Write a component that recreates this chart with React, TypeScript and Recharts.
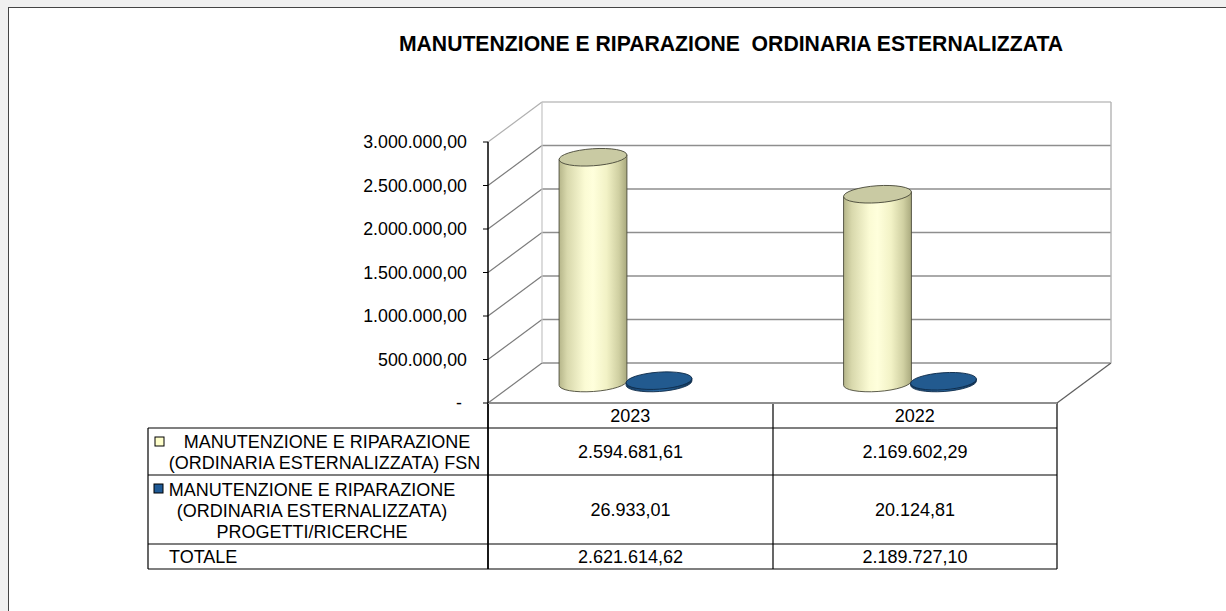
import { BarChart, Bar, XAxis, YAxis, CartesianGrid } from "recharts";

const categories = ["2023", "2022"];
const fsnValues = [2594681.61, 2169602.29];
const progettiValues = [26933.01, 20124.81];
const yTicks = [0, 500000, 1000000, 1500000, 2000000, 2500000, 3000000];

const title = "MANUTENZIONE E RIPARAZIONE  ORDINARIA ESTERNALIZZATA";
const fsnLabel = ["MANUTENZIONE E RIPARAZIONE", "(ORDINARIA ESTERNALIZZATA) FSN"];
const progettiLabel = ["MANUTENZIONE E RIPARAZIONE", "(ORDINARIA ESTERNALIZZATA)", "PROGETTI/RICERCHE"];
const totalLabel = "TOTALE";

const data = categories.map((year, i) => ({
  year,
  fsn: fsnValues[i],
  progetti: progettiValues[i],
}));
const totals = categories.map((_, i) => fsnValues[i] + progettiValues[i]);

// layout
const W = 1226;
const H = 611;
const PLOT_L = 488;
const PLOT_R = 1057;
const PLOT_T = 142;
const PLOT_B = 403;
const YAXIS_W = 140;
const XAXIS_H = 25;
const BACK_DX = 54;
const BACK_DY = -40;
const FONT = "'Liberation Sans', Arial, sans-serif";

const COLS = [148, 488, 773, 1057];
const ROWS = [428, 475, 544, 569];

function fmtIt(v: number) {
  const [int, dec] = v.toFixed(2).split(".");
  return int.replace(/\B(?=(\d{3})+(?!\d))/g, ".") + "," + dec;
}

function YTick(props: any) {
  const { x, y, payload } = props;
  const zero = payload.value === 0;
  return (
    <text
      x={zero ? x - 5 : x}
      y={y}
      dy="0.355em"
      textAnchor="end"
      fontSize={17.8}
      fontFamily={FONT}
      fill="#000"
    >
      {zero ? "-" : fmtIt(payload.value)}
    </text>
  );
}

function wallLine(p: any) {
  const { x1, x2, y1 } = p;
  const by = y1 + BACK_DY;
  const bl = x1 + BACK_DX;
  const br = x2 + BACK_DX;
  const isTop = Math.abs(y1 - PLOT_T) < 1;
  const isBottom = Math.abs(y1 - PLOT_B) < 1;
  return (
    <g key={`wl-${y1}`}>
      <line x1={x1} y1={y1} x2={bl} y2={by} stroke={isTop ? "#b0b0b0" : "#7c7c7c"} strokeWidth={1.2} />
      <line x1={bl} y1={by} x2={br} y2={by} stroke={isTop ? "#c0c0c0" : "#8e8e8e"} strokeWidth={1.6} />
      {isTop && (
        <>
          <line x1={bl} y1={by} x2={bl} y2={by + PLOT_B - PLOT_T} stroke="#c4c4c4" strokeWidth={1.2} />
          <line x1={br} y1={by} x2={br} y2={by + PLOT_B - PLOT_T} stroke="#b4b4b4" strokeWidth={1.4} />
        </>
      )}
      {isBottom && (
        <>
          <line x1={x1} y1={y1} x2={x2} y2={y1} stroke="#8e8e8e" strokeWidth={1.8} />
          <line x1={x2} y1={y1} x2={br} y2={by} stroke="#606060" strokeWidth={1.3} />
        </>
      )}
    </g>
  );
}

const TILT = (-4 * Math.PI) / 180;

function Cylinder(props: any) {
  const { x, y, width, height, kind } = props;
  if (x == null || y == null) return null;
  const blue = kind === "progetti";
  const rx = blue ? width / 2 - 1 : width / 2;
  const cx = x + width / 2 - 5 + (blue ? 1 : 0);
  const ry = 8.5;
  const top = y + BACK_DY / 2;
  const bottom = y + Math.max(height, 0) + BACK_DY / 2;
  const c = Math.cos(TILT) * rx;
  const s = Math.sin(TILT) * rx;
  const body = [
    `M ${cx - c} ${top - s}`,
    `L ${cx - c} ${bottom - s}`,
    `A ${rx} ${ry} -4 0 0 ${cx + c} ${bottom + s}`,
    `L ${cx + c} ${top + s}`,
    "Z",
  ].join(" ");
  return (
    <g>
      <path
        d={body}
        fill={blue ? "url(#blueBody)" : "url(#yellowBody)"}
        stroke={blue ? "#0e2b4a" : "#4a4a3a"}
        strokeWidth={0.9}
      />
      <ellipse
        cx={cx}
        cy={top}
        rx={rx}
        ry={ry}
        transform={`rotate(-4 ${cx} ${top})`}
        fill={blue ? "#225a8f" : "#c9caa3"}
        stroke={blue ? "#0e2b4a" : "#4a4a3a"}
        strokeWidth={0.9}
      />
    </g>
  );
}

function TableOverlay() {
  const t = { fontFamily: FONT, fontSize: 18, fill: "#000" };
  const colCenter = [(COLS[1] + COLS[2]) / 2, (COLS[2] + COLS[3]) / 2];
  return (
    <svg width={W} height={H} style={{ position: "absolute", left: 0, top: 0 }}>
      {/* table grid */}
      <g stroke="#000" strokeWidth={1.2}>
        {ROWS.map((r) => (
          <line key={`r${r}`} x1={COLS[0]} y1={r} x2={COLS[3]} y2={r} />
        ))}
        <line x1={COLS[0]} y1={ROWS[0]} x2={COLS[0]} y2={ROWS[3]} />
        <line x1={COLS[1]} y1={PLOT_B} x2={COLS[1]} y2={ROWS[3]} strokeWidth={1.8} />
        <line x1={COLS[2]} y1={PLOT_B} x2={COLS[2]} y2={ROWS[3]} />
        <line x1={COLS[3]} y1={PLOT_B} x2={COLS[3]} y2={ROWS[3]} />
      </g>

      {/* legend keys */}
      <rect x={155} y={437} width={9} height={9} fill="#ffffcc" stroke="#000" strokeWidth={1} />
      <rect x={154} y={484} width={9} height={9} fill="#1f5a96" stroke="#000" strokeWidth={1} />

      {/* row labels */}
      <text {...t} x={327} y={448} textAnchor="middle">{fsnLabel[0]}</text>
      <text {...t} x={324.5} y={469} textAnchor="middle">{fsnLabel[1]}</text>
      {progettiLabel.map((line, i) => (
        <text key={line} {...t} x={312} y={496 + i * 21} textAnchor="middle">
          {line}
        </text>
      ))}
      <text {...t} x={169} y={563}>{totalLabel}</text>

      {/* values */}
      {categories.map((c, i) => (
        <g key={c}>
          <text {...t} x={colCenter[i]} y={458} textAnchor="middle">{fmtIt(fsnValues[i])}</text>
          <text {...t} x={colCenter[i]} y={516} textAnchor="middle">{fmtIt(progettiValues[i])}</text>
          <text {...t} x={colCenter[i]} y={563} textAnchor="middle">{fmtIt(totals[i])}</text>
        </g>
      ))}

      <text
        x={731}
        y={51}
        textAnchor="middle"
        fontFamily={FONT}
        fontWeight="bold"
        fontSize={21.2}
        fill="#000"
        style={{ whiteSpace: "pre" }}
      >
        {title}
      </text>
    </svg>
  );
}

export default function App() {
  return (
    <div style={{ position: "absolute", left: 0, top: 0, width: W, height: H, background: "#f0f0f0", overflow: "hidden" }}>
      <div
        style={{
          position: "absolute",
          left: 8,
          top: 7,
          width: W,
          height: H,
          background: "#fff",
          borderLeft: "1px solid #444",
          borderTop: "1px solid #444",
        }}
      />
      <TableOverlay />
      <div style={{ position: "absolute", left: 0, top: 0 }}>
        <BarChart
          width={W}
          height={H}
          data={data}
          barSize={68}
          barGap={-3}
          margin={{ top: PLOT_T, right: W - PLOT_R, bottom: H - PLOT_B - XAXIS_H, left: PLOT_L - YAXIS_W }}
        >
          <defs>
            <linearGradient id="yellowBody" x1="0" y1="0" x2="1" y2="0">
              <stop offset="0%" stopColor="#b6b68a" />
              <stop offset="12%" stopColor="#d8d8ac" />
              <stop offset="38%" stopColor="#fbfbd4" />
              <stop offset="50%" stopColor="#ffffdc" />
              <stop offset="70%" stopColor="#f2f2c6" />
              <stop offset="88%" stopColor="#d0d0a2" />
              <stop offset="100%" stopColor="#a9a97e" />
            </linearGradient>
            <linearGradient id="blueBody" x1="0" y1="0" x2="1" y2="0">
              <stop offset="0%" stopColor="#143a60" />
              <stop offset="50%" stopColor="#2a6aa4" />
              <stop offset="100%" stopColor="#123658" />
            </linearGradient>
          </defs>
          <CartesianGrid horizontal={wallLine} vertical={false} />
          <XAxis
            dataKey="year"
            axisLine={false}
            tickLine={false}
            tickMargin={0}
            tick={{ fontSize: 18, fontFamily: FONT, fill: "#000" }}
            height={XAXIS_H}
            interval={0}
          />
          <YAxis
            width={YAXIS_W}
            domain={[0, 3000000]}
            ticks={yTicks}
            interval={0}
            axisLine={{ stroke: "#000", strokeWidth: 1.5 }}
            tickLine={{ stroke: "#000" }}
            tickSize={5}
            tickMargin={16}
            tick={<YTick />}
          />
          <Bar dataKey="fsn" isAnimationActive={false} shape={(p: any) => <Cylinder {...p} kind="fsn" />} />
          <Bar dataKey="progetti" isAnimationActive={false} shape={(p: any) => <Cylinder {...p} kind="progetti" />} />
        </BarChart>
      </div>
    </div>
  );
}
